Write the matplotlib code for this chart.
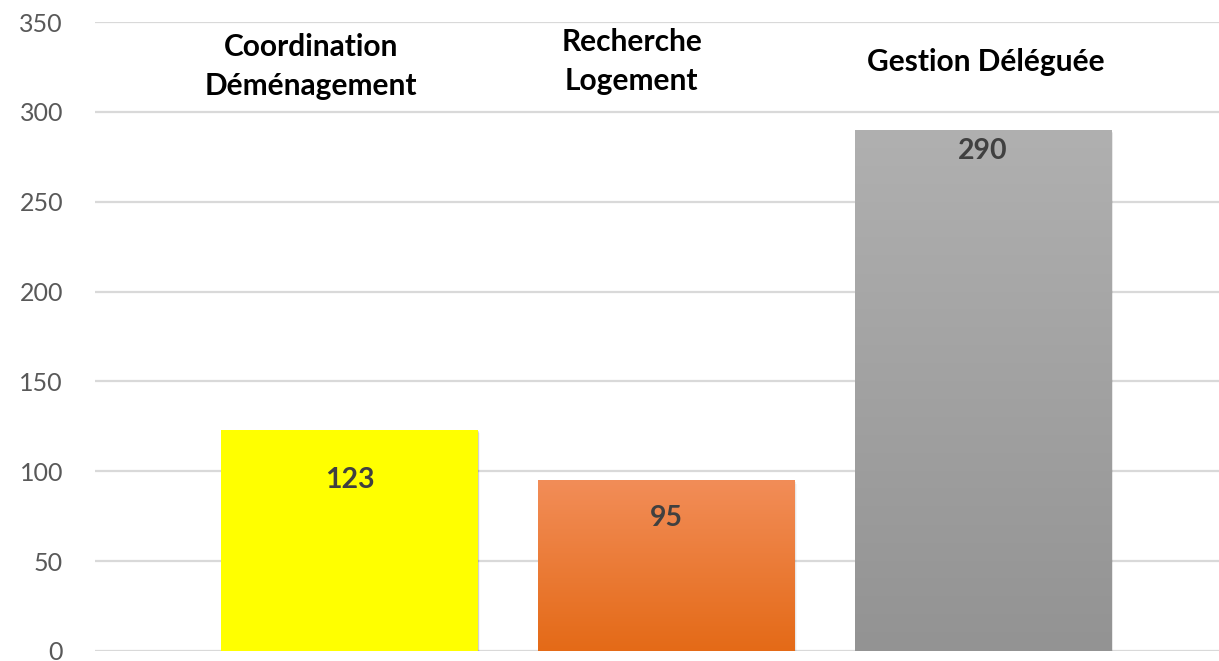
import matplotlib
matplotlib.use("Agg")
import matplotlib.pyplot as plt
import numpy as np
from matplotlib.colors import LinearSegmentedColormap

categories = ["Coordination\nDéménagement", "Recherche\nLogement", "Gestion Déléguée"]
values = [123, 95, 290]
yticks = [0, 50, 100, 150, 200, 250, 300, 350]

# styling (not data)
grad_top = ["#FFFF00", "#F28D58", "#B0B0B0"]
grad_bot = ["#FFFF00", "#E46A17", "#939393"]
value_offsets_pt = [-36, -27, -15]
label_dx_pt = [-28, -25, 2]
label_y = [325.5, 328, 327.5]

plt.rcParams['font.family'] = ['Lato', 'DejaVu Sans']

fig = plt.figure(figsize=(12.19, 6.61), dpi=100)
ax = fig.add_axes([95/1219, (661-651)/661, 1 - 95/1219, (651-22)/661])
ax.set_ylim(0, 350)

for s in ax.spines.values():
    s.set_visible(False)
ax.set_yticks(yticks)
ax.set_yticklabels([str(t) for t in yticks], fontsize=18, color="#595959")
ax.tick_params(axis='y', length=0, pad=23)
ax.set_xticks([])
ax.grid(axis='y', color="#D9D9D9", linewidth=1.6)
ax.set_axisbelow(True)

x = np.arange(len(values))
width = 0.81
bars = ax.bar(x, values, width=width, color=grad_top, zorder=2)

for i, b in enumerate(bars):
    x0, y0 = b.get_x(), b.get_y()
    w, h = b.get_width(), b.get_height()
    # soft shadow
    for k, a in enumerate([0.10, 0.06, 0.03]):
        sh = plt.Rectangle((x0 + 0.002 * (k + 1), y0 - 0.6 * (k + 1)), w, h,
                           color="#000000", alpha=a, zorder=1.5, linewidth=0)
        ax.add_patch(sh)
    cmap = LinearSegmentedColormap.from_list("g%d" % i, [grad_bot[i], grad_top[i]])
    grad = np.linspace(0, 1, 256).reshape(-1, 1)
    im = ax.imshow(grad, extent=[x0, x0 + w, y0, y0 + h], origin='lower',
                   cmap=cmap, aspect='auto', zorder=2.5)
    im.set_clip_path(b)
    ax.annotate(str(values[i]), (x[i], values[i]), xytext=(0, value_offsets_pt[i]),
                textcoords='offset points', ha='center', va='center',
                fontsize=20.5, fontweight='bold', color="#404040", zorder=4)
    ax.annotate(categories[i], (x[i], label_y[i]), xytext=(label_dx_pt[i], 0),
                textcoords='offset points', ha='center', va='center', fontsize=21.5,
                fontweight='bold', color="#000000", linespacing=1.48, zorder=4)

ax.set_xlim(-0.804, 2.745)
fig.savefig("out.png", dpi=100)
